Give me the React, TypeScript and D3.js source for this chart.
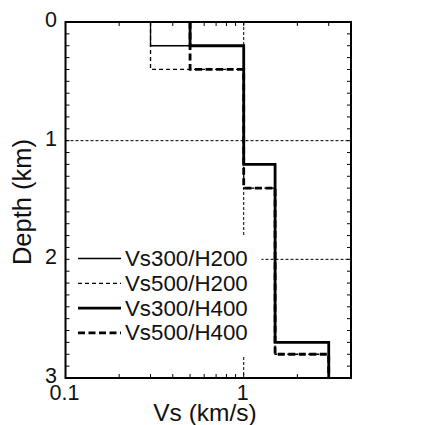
import React from "react";
import * as d3 from "d3";

// Layered velocity profiles: top-layer Vs and thickness variations
const seriesNames = ["Vs300/H200", "Vs500/H200", "Vs300/H400", "Vs500/H400"];
// layer velocities (km/s), from surface downward
const seriesVs = [
  [0.3, 1.0, 1.5, 3.0],
  [0.3, 1.0, 1.5, 3.0],
  [0.5, 1.0, 1.5, 3.0],
  [0.5, 1.0, 1.5, 3.0],
];
// layer boundaries (km): top of each layer, last entry = bottom of plot
const seriesDepths = [
  [0, 0.2, 1.2, 2.7, 3.0],
  [0, 0.4, 1.4, 2.8, 3.0],
  [0, 0.2, 1.2, 2.7, 3.0],
  [0, 0.4, 1.4, 2.8, 3.0],
];
const seriesWidths = [1.3, 1.3, 2.8, 2.8];
const seriesDash = ["none", "4,3", "none", "7,3.5"];

const depthTicks = [0, 1, 2, 3];
const vsTickLabels = [0.1, 1];
const depthGrid = [1, 2];
const vsGrid = [1];

const W = 427;
const H = 425;
const left = 65.5;
const right = 351;
const top = 22;
const bottom = 378;

export default function App() {
  const x = d3.scaleLog().domain([0.1, 4]).range([left, right]);
  const y = d3.scaleLinear().domain([0, 3]).range([top, bottom]);

  const line = d3
    .line<[number, number]>()
    .x((d) => x(d[0]))
    .y((d) => y(d[1]));

  const profilePoints = (vs: number[], dep: number[]) => {
    const pts: [number, number][] = [];
    vs.forEach((v, i) => {
      pts.push([v, dep[i]]);
      pts.push([v, dep[i + 1]]);
    });
    return pts;
  };

  const yMinor = d3.range(0, 3.0001, 0.1);
  const xMinor = x.ticks(20).filter((t) => t <= 4);

  const font = "Liberation Sans, Arial, Helvetica, sans-serif";
  const legendRowY = (i: number) => 258.5 + i * 24.8;

  return (
    <svg
      width={W}
      height={H}
      style={{ position: "absolute", left: 0, top: 0, background: "#fff" }}
      fontFamily={font}
    >
      {/* grid */}
      {depthGrid.map((d) => (
        <line key={"gy" + d} x1={left} x2={right} y1={y(d)} y2={y(d)} stroke="#000" strokeWidth={1} strokeDasharray="3,2" />
      ))}
      {vsGrid.map((v) => (
        <line key={"gx" + v} x1={x(v)} x2={x(v)} y1={top} y2={bottom} stroke="#000" strokeWidth={1} strokeDasharray="3,2" />
      ))}

      {/* legend background */}
      <rect x={left + 1} y={237} width={195} height={118} fill="#fff" />

      {/* profiles */}
      {seriesNames.map((name, i) => (
        <path
          key={name}
          d={line(profilePoints(seriesVs[i], seriesDepths[i])) || ""}
          fill="none"
          stroke="#000"
          strokeWidth={seriesWidths[i]}
          strokeDasharray={seriesDash[i]}
          strokeLinejoin="miter"
        />
      ))}

      {/* ticks */}
      {yMinor.map((d, i) => (
        <g key={"yt" + i}>
          <line x1={left} x2={left + 4} y1={y(d)} y2={y(d)} stroke="#000" strokeWidth={1} />
          <line x1={right} x2={right - 4} y1={y(d)} y2={y(d)} stroke="#000" strokeWidth={1} />
        </g>
      ))}
      {xMinor.map((v, i) => (
        <g key={"xt" + i}>
          <line x1={x(v)} x2={x(v)} y1={bottom} y2={bottom - 4} stroke="#000" strokeWidth={1} />
          <line x1={x(v)} x2={x(v)} y1={top} y2={top + 4} stroke="#000" strokeWidth={1} />
        </g>
      ))}

      {/* frame */}
      <rect x={left} y={top} width={right - left} height={bottom - top} fill="none" stroke="#000" strokeWidth={2} />

      {/* tick labels */}
      {depthTicks.map((d) => (
        <text key={"yl" + d} x={57} y={y(d) - 2} textAnchor="end" dominantBaseline="central" fontSize={21.5} fill="#111">
          {d}
        </text>
      ))}
      {vsTickLabels.map((v) => (
        <text key={"xl" + v} x={x(v) - 1} y={400} textAnchor="middle" fontSize={21.5} fill="#111">
          {v}
        </text>
      ))}

      {/* axis titles */}
      <text x={205} y={421} textAnchor="middle" fontSize={24.5} fill="#111">
        Vs (km/s)
      </text>
      <text transform={`translate(31, 202) rotate(-90)`} textAnchor="middle" fontSize={25.5} fill="#111">
        Depth (km)
      </text>

      {/* legend */}
      {seriesNames.map((name, i) => (
        <g key={"lg" + name}>
          <line
            x1={78}
            x2={121}
            y1={legendRowY(i)}
            y2={legendRowY(i)}
            stroke="#000"
            strokeWidth={seriesWidths[i]}
            strokeDasharray={seriesDash[i]}
          />
          <text x={125} y={legendRowY(i)} dominantBaseline="central" fontSize={22.3} fill="#111">
            {name}
          </text>
        </g>
      ))}
    </svg>
  );
}
